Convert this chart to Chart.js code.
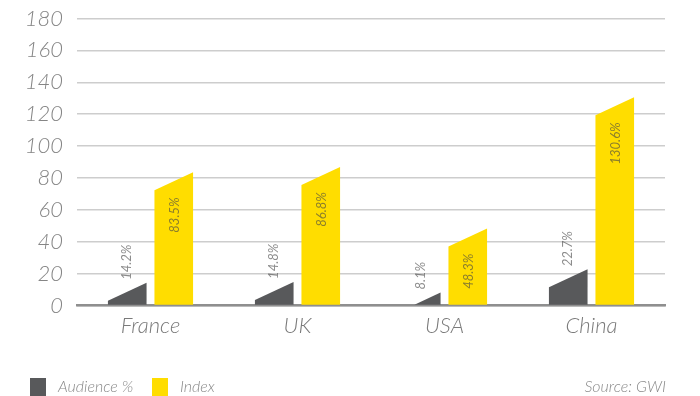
<!DOCTYPE html>
<html>
<head>
<meta charset="utf-8">
<script src="https://cdn.jsdelivr.net/npm/chart.js@4.4.1/dist/chart.umd.min.js"></script>
<style>
  html, body { margin: 0; padding: 0; background: #fff; }
  #wrap { width: 700px; height: 396px; }
</style>
</head>
<body>
<div id="wrap"><canvas id="chart" width="700" height="396"></canvas></div>
<script>
const countries = ['France', 'UK', 'USA', 'China'];
const audience = [14.2, 14.8, 8.1, 22.7];
const index = [83.5, 86.8, 48.3, 130.6];
const yTicks = [0, 20, 40, 60, 80, 100, 120, 140, 160, 180];
const seriesNames = ['Audience %', 'Index'];
const source = 'Source: GWI';

const GREY = '#58595b';
const YELLOW = '#ffdd00';
const FONT = 'Lato, "Open Sans", sans-serif';
const SLANT = 18; // px drop from right to left along each bar top

// bars with a sloping top: right corner sits on the value, left corner is SLANT px lower
const slantBars = {
    id: 'slantBars',
    beforeDatasetDraw(chart, args) {
        const { ctx } = chart;
        const meta = args.meta;
        ctx.save();
        ctx.fillStyle = chart.data.datasets[args.index].backgroundColor;
        meta.data.forEach(bar => {
            const { x, y, base, width } = bar.getProps(['x', 'y', 'base', 'width'], true);
            const l = x - width / 2, r = x + width / 2;
            ctx.beginPath();
            if (y + SLANT <= base) {
                ctx.moveTo(l, base);
                ctx.lineTo(l, y + SLANT);
            } else {
                // slope meets the baseline before reaching the left edge
                ctx.moveTo(r - width * (base - y) / SLANT, base);
            }
            ctx.lineTo(r, y);
            ctx.lineTo(r, base);
            ctx.closePath();
            ctx.fill();
        });
        ctx.restore();
        return false;
    },
    afterDatasetsDraw(chart) {
        const { ctx } = chart;
        ctx.save();
        ctx.font = 'italic 13px ' + FONT;
        ctx.fillStyle = 'rgba(70,70,70,0.62)';
        ctx.textBaseline = 'middle';
        chart.data.datasets.forEach((ds, di) => {
            chart.getDatasetMeta(di).data.forEach((bar, i) => {
                const { x, y } = bar.getProps(['x', 'y'], true);
                const txt = ds.data[i] + '%';
                ctx.save();
                if (di === 0) {
                    ctx.translate(x, y - 3);
                    ctx.rotate(-Math.PI / 2);
                    ctx.textAlign = 'left';
                } else {
                    ctx.translate(x + 1, y + SLANT + 7);
                    ctx.rotate(-Math.PI / 2);
                    ctx.textAlign = 'right';
                }
                ctx.fillText(txt, 0, 0);
                ctx.restore();
            });
        });
        ctx.restore();
    },
    afterDraw(chart) {
        const { ctx } = chart;
        const yMid = 387;
        ctx.save();
        ctx.font = 'italic 300 16px ' + FONT;
        ctx.textBaseline = 'middle';
        let x = 30;
        chart.data.datasets.forEach(ds => {
            ctx.fillStyle = ds.backgroundColor;
            ctx.fillRect(x, 378, 16, 18);
            ctx.fillStyle = '#8a8a8a';
            ctx.textAlign = 'left';
            ctx.fillText(ds.label, x + 28, yMid);
            x += 122;
        });
        ctx.textAlign = 'right';
        ctx.fillText(source, 666, yMid);
        ctx.restore();
    }
};

new Chart(document.getElementById('chart'), {
    type: 'bar',
    data: {
        labels: countries,
        datasets: [
            { label: seriesNames[0], data: audience, backgroundColor: GREY },
            { label: seriesNames[1], data: index, backgroundColor: YELLOW }
        ]
    },
    options: {
        responsive: false,
        animation: false,
        events: [],
        categoryPercentage: 0.633,
        barPercentage: 0.83,
        layout: { padding: { top: 18.5, right: 35, left: 0, bottom: 0 } },
        plugins: { legend: { display: false }, tooltip: { enabled: false } },
        scales: {
            x: {
                grid: { display: false },
                border: { display: true, color: '#8f8f8f', width: 2.5 },
                ticks: { color: '#7a7a7a', padding: -1, font: { family: FONT, size: 22, style: 'italic', weight: 300 } },
                afterFit(scale) { scale.height = 90.5; }
            },
            y: {
                min: 0,
                max: 180,
                afterBuildTicks(scale) { scale.ticks = yTicks.map(v => ({ value: v })); },
                grid: { color: '#cdcdcd', lineWidth: 1.5, drawTicks: false },
                border: { display: false },
                ticks: { color: '#858585', padding: 14, font: { family: FONT, size: 22, style: 'italic', weight: 300 } },
                afterFit(scale) {
                    scale.width = 77;
                    scale.paddingTop = 0;
                    scale.paddingBottom = 0;
                }
            }
        }
    },
    plugins: [slantBars]
});
</script>
</body>
</html>
